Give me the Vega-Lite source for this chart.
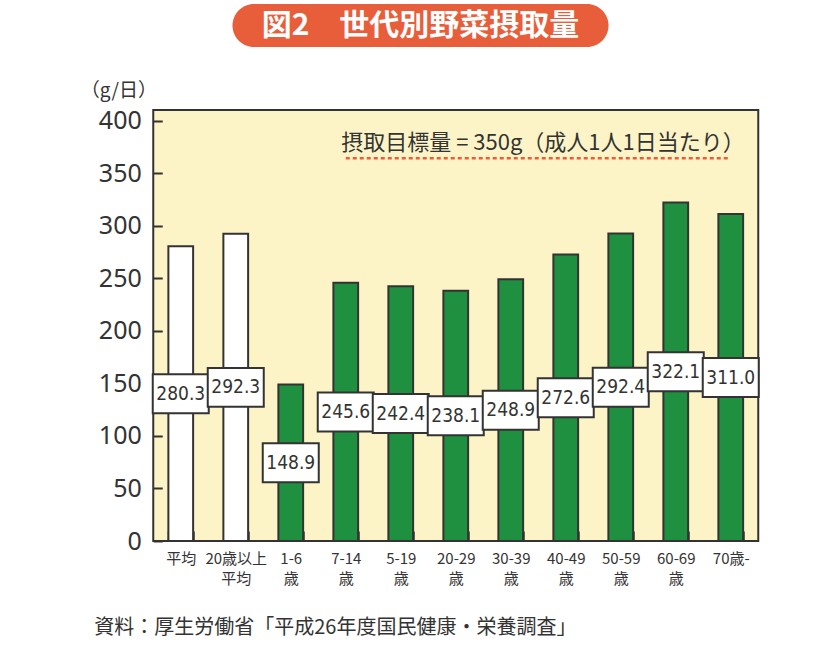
{
  "$schema": "https://vega.github.io/schema/vega-lite/v6.json",
  "background": "white",
  "padding": {"left": 79, "top": 4, "right": 0, "bottom": 0},
  "center": true,
  "bounds": "full",
  "spacing": 33,
  "config": {"font": "Noto Sans CJK JP"},
  "datasets": {
    "intake": [
      {"age": "平均", "value": 280.3, "group": "平均"},
      {"age": "20歳以上 平均", "value": 292.3, "group": "平均"},
      {"age": "1-6 歳", "value": 148.9, "group": "年齢別"},
      {"age": "7-14 歳", "value": 245.6, "group": "年齢別"},
      {"age": "5-19 歳", "value": 242.4, "group": "年齢別"},
      {"age": "20-29 歳", "value": 238.1, "group": "年齢別"},
      {"age": "30-39 歳", "value": 248.9, "group": "年齢別"},
      {"age": "40-49 歳", "value": 272.6, "group": "年齢別"},
      {"age": "50-59 歳", "value": 292.4, "group": "年齢別"},
      {"age": "60-69 歳", "value": 322.1, "group": "年齢別"},
      {"age": "70歳-", "value": 311.0, "group": "年齢別"}
    ]
  },
  "vconcat": [
    {
      "width": 376,
      "height": 43,
      "view": {"fill": "#e85d3a", "stroke": null, "cornerRadius": 21.5},
      "title": {"text": " ", "orient": "right", "offset": 66, "fontSize": 10},
      "data": {"values": [{"title": "図2　世代別野菜摂取量"}]},
      "mark": {"type": "text", "color": "white", "fontSize": 30, "fontWeight": "bold", "font": "Noto Sans CJK JP", "baseline": "middle", "align": "center"},
      "encoding": {"text": {"field": "title", "type": "nominal"}}
    },
    {
      "width": 605,
      "height": 431,
      "view": {"fill": "#fcf4c7", "stroke": "#333333", "strokeWidth": 2},
      "title": {"text": "資料：厚生労働省「平成26年度国民健康・栄養調査」", "orient": "bottom", "anchor": "start", "frame": "bounds", "fontSize": 20, "fontWeight": "normal", "color": "#333333", "offset": 32, "dx": 14, "font": "Noto Sans CJK JP"},
      "resolve": {"scale": {"y": "independent"}},
      "layer": [
        {
          "data": {"name": "intake"},
          "mark": {"type": "bar", "stroke": "#333333", "strokeWidth": 2},
          "encoding": {
            "x": {
              "field": "age", "type": "nominal", "sort": null,
              "scale": {"domain": ["平均", "20歳以上 平均", "1-6 歳", "7-14 歳", "5-19 歳", "20-29 歳", "30-39 歳", "40-49 歳", "50-59 歳", "60-69 歳", "70歳-"], "paddingInner": 0.55, "paddingOuter": 0.275},
              "axis": {"title": null, "domain": false, "tickBand": "extent", "tickSize": -10, "tickColor": "#333333", "tickWidth": 2, "labelAngle": 0, "labelFontSize": 15, "labelLineHeight": 20, "labelColor": "#333333", "labelFont": "Noto Sans CJK JP", "labelPadding": 20, "labelBaseline": "top", "labelExpr": "split(datum.label, ' ')"}
            },
            "y": {
              "field": "value", "type": "quantitative",
              "scale": {"domain": [0, 410], "nice": false},
              "axis": {"values": [0, 50, 100, 150, 200, 250, 300, 350, 400], "domain": false, "grid": false, "tickSize": -9, "tickColor": "#333333", "tickWidth": 2, "labelFontSize": 25, "labelFont": "Noto Sans", "labelColor": "#333333", "labelPadding": 21, "title": "（g/日）", "titleAngle": 0, "titleX": -73, "titleY": -20, "titleAlign": "left", "titleBaseline": "middle", "titleFontSize": 19, "titleFontWeight": "normal", "titleColor": "#333333", "titleFont": "Noto Sans CJK JP"}
            },
            "color": {"field": "group", "type": "nominal", "scale": {"domain": ["平均", "年齢別"], "range": ["#ffffff", "#1f8f40"]}, "legend": null}
          }
        },
        {
          "data": {"values": [{"note": "摂取目標量 = 350g（成人1人1日当たり）"}]},
          "layer": [
            {
              "mark": {"type": "rule", "color": "#f05a36", "strokeWidth": 2.5, "strokeDash": [4, 3]},
              "encoding": {
                "x": {"datum": "7-14 歳", "type": "nominal"},
                "x2": {"datum": "70歳-"},
                "y": {"datum": 364, "type": "quantitative", "scale": {"domain": [0, 410], "nice": false}, "axis": null}
              }
            },
            {
              "mark": {"type": "text", "align": "right", "baseline": "middle", "fontSize": 22, "color": "#333333", "dx": 14, "font": "Noto Sans CJK JP"},
              "encoding": {
                "x": {"datum": "70歳-", "type": "nominal"},
                "y": {"datum": 379, "type": "quantitative", "scale": {"domain": [0, 410], "nice": false}, "axis": null},
                "text": {"field": "note", "type": "nominal"}
              }
            }
          ]
        },
        {
          "data": {"name": "intake"},
          "encoding": {
            "x": {"field": "age", "type": "nominal", "sort": null},
            "y": {"field": "value", "type": "quantitative", "scale": {"domain": [0, 820], "nice": false}, "axis": null}
          },
          "layer": [
            {
              "mark": {"type": "point", "shape": "M-1,-0.696H1V0.696H-1Z", "size": 3136, "filled": true, "fill": "white", "stroke": "#333333", "strokeWidth": 2, "opacity": 1}
            },
            {
              "mark": {"type": "text", "font": "DejaVu Sans Condensed, Liberation Sans Narrow, sans-serif", "fontSize": 19, "color": "#333333", "baseline": "middle", "align": "center"},
              "encoding": {"text": {"field": "value", "type": "quantitative", "format": ".1f"}}
            }
          ]
        }
      ]
    }
  ]
}
